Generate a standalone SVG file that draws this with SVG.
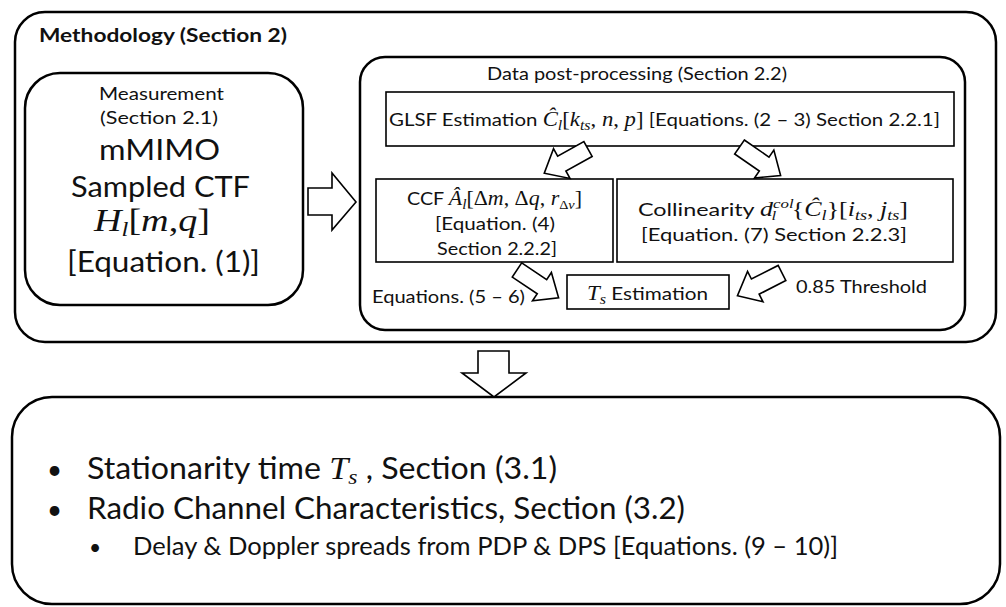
<svg xmlns="http://www.w3.org/2000/svg" xmlns:xlink="http://www.w3.org/1999/xlink" width="1006" height="607" viewBox="0 0 1006 607">
  <style>
    .frame { fill: #fff; stroke: #000; stroke-width: 2.5; }
    .box { fill: #fff; stroke: #000; stroke-width: 1.6; }
    .blk { fill: #fff; stroke: #000; stroke-width: 1.6; stroke-linejoin: miter; }
    text { font-family: Lato, "Open Sans", sans-serif; fill: #111; }
    .m { font-family: "Liberation Serif", "DejaVu Serif", serif; font-style: italic; }
    .mu { font-family: "Liberation Serif", "DejaVu Serif", serif; font-style: normal; }
  </style>
  <defs>
    <!-- hollow block arrow, tail at origin, pointing along +x -->
    <polygon id="blk" points="0,-8.5 30,-8.5 30,-17 50,0 30,17 30,8.5 0,8.5"/>
  </defs>
  <rect width="1006" height="607" fill="#fff"/>

  <!-- methodology frame -->
  <g id="methodology">
    <rect class="frame" x="15" y="12" width="981" height="330" rx="30"/>
    <text x="39" y="42" font-size="18" font-weight="bold" textLength="248" lengthAdjust="spacingAndGlyphs">Methodology (Section 2)</text>
  </g>

  <!-- measurement -->
  <g id="measurement">
    <rect class="frame" x="25" y="73" width="278" height="232" rx="35"/>
    <text x="99" y="100" font-size="18" textLength="125" lengthAdjust="spacingAndGlyphs">Measurement</text>
    <text x="100" y="124" font-size="18" textLength="118" lengthAdjust="spacingAndGlyphs">(Section 2.1)</text>
    <text x="99" y="160" font-size="29" textLength="121" lengthAdjust="spacingAndGlyphs">mMIMO</text>
    <text x="71" y="197" font-size="28" textLength="179" lengthAdjust="spacingAndGlyphs">Sampled CTF</text>
    <text x="94" y="231" font-size="31" textLength="116" lengthAdjust="spacingAndGlyphs"><tspan class="m">H</tspan><tspan class="m" font-size="20" dy="5">l</tspan><tspan class="mu" dy="-5">[</tspan><tspan class="m">m</tspan><tspan class="mu">,</tspan><tspan class="m">q</tspan><tspan class="mu">]</tspan></text>
    <text x="67" y="272" font-size="28" textLength="193" lengthAdjust="spacingAndGlyphs">[Equation. (1)]</text>
  </g>

  <!-- data post-processing -->
  <g id="post-processing">
    <rect class="frame" x="360" y="57" width="605" height="273" rx="25"/>
    <text x="487" y="80" font-size="18" textLength="300" lengthAdjust="spacingAndGlyphs">Data post-processing (Section 2.2)</text>
  </g>

  <g id="glsf">
    <rect class="box" x="386" y="92" width="568" height="54"/>
    <text x="389" y="126" font-size="18" textLength="551" lengthAdjust="spacingAndGlyphs">GLSF Estimation <tspan class="m" font-size="20">Ĉ</tspan><tspan class="m" font-size="14" dy="4">l</tspan><tspan class="mu" font-size="20" dy="-4">[</tspan><tspan class="m" font-size="20">k</tspan><tspan class="m" font-size="14" dy="4">ts</tspan><tspan class="mu" font-size="20" dy="-4">, </tspan><tspan class="m" font-size="20">n</tspan><tspan class="mu" font-size="20">, </tspan><tspan class="m" font-size="20">p</tspan><tspan class="mu" font-size="20">]</tspan> [Equations. (2 – 3) Section 2.2.1]</text>
  </g>

  <g id="ccf">
    <rect class="box" x="376" y="179" width="237" height="83"/>
    <text x="407" y="205" font-size="18" textLength="175" lengthAdjust="spacingAndGlyphs">CCF <tspan class="m" font-size="20">Â</tspan><tspan class="m" font-size="14" dy="4">l</tspan><tspan class="mu" font-size="20" dy="-4">[Δ</tspan><tspan class="m" font-size="20">m</tspan><tspan class="mu" font-size="20">, Δ</tspan><tspan class="m" font-size="20">q</tspan><tspan class="mu" font-size="20">, </tspan><tspan class="m" font-size="20">r</tspan><tspan class="mu" font-size="13" dy="4">Δ</tspan><tspan class="m" font-size="13">v</tspan><tspan class="mu" font-size="20" dy="-4">]</tspan></text>
    <text x="435" y="230" font-size="18" textLength="120" lengthAdjust="spacingAndGlyphs">[Equation. (4)</text>
    <text x="437" y="255" font-size="18" textLength="120" lengthAdjust="spacingAndGlyphs">Section 2.2.2]</text>
  </g>

  <g id="collinearity">
    <rect class="box" x="617" y="179" width="336" height="83"/>
    <text x="638" y="216" font-size="18" textLength="270" lengthAdjust="spacingAndGlyphs">Collinearity <tspan class="m" font-size="20">d</tspan><tspan class="m" font-size="13" dy="-8">col</tspan><tspan class="m" font-size="13" dx="-17" dy="12">l</tspan><tspan class="mu" font-size="20" dx="12" dy="-4">{</tspan><tspan class="m" font-size="20">Ĉ</tspan><tspan class="m" font-size="14" dy="4">l</tspan><tspan class="mu" font-size="20" dy="-4">}[</tspan><tspan class="m" font-size="20">i</tspan><tspan class="m" font-size="14" dy="4">ts</tspan><tspan class="mu" font-size="20" dy="-4">, </tspan><tspan class="m" font-size="20">j</tspan><tspan class="m" font-size="14" dy="4">ts</tspan><tspan class="mu" font-size="20" dy="-4">]</tspan></text>
    <text x="641" y="241" font-size="18" textLength="266" lengthAdjust="spacingAndGlyphs">[Equation. (7) Section 2.2.3]</text>
  </g>

  <g id="ts-estimation">
    <rect class="box" x="567" y="275" width="162" height="34"/>
    <text x="587" y="300" font-size="18" textLength="121" lengthAdjust="spacingAndGlyphs"><tspan class="m" font-size="20">T</tspan><tspan class="m" font-size="14" dy="4">s</tspan><tspan dy="-4"> Estimation</tspan></text>
  </g>

  <g id="labels">
    <text x="372" y="303" font-size="18" textLength="153" lengthAdjust="spacingAndGlyphs">Equations. (5 – 6)</text>
    <text x="796" y="293" font-size="18" textLength="131" lengthAdjust="spacingAndGlyphs">0.85 Threshold</text>
  </g>

  <!-- results -->
  <g id="results">
    <rect class="frame" x="12" y="397" width="988" height="207" rx="40"/>
    <text x="47" y="479" font-size="26">•</text>
    <text x="87" y="479" font-size="30" textLength="470" lengthAdjust="spacingAndGlyphs">Stationarity time <tspan class="m" font-size="32">T</tspan><tspan class="m" font-size="22" dy="5">s</tspan><tspan dy="-5"> ,  Section (3.1)</tspan></text>
    <text x="47" y="519" font-size="26">•</text>
    <text x="87" y="519" font-size="30" textLength="598" lengthAdjust="spacingAndGlyphs">Radio Channel Characteristics, Section (3.2)</text>
    <text x="89" y="555" font-size="21">•</text>
    <text x="133" y="555" font-size="25" textLength="705" lengthAdjust="spacingAndGlyphs">Delay &amp; Doppler spreads from PDP &amp; DPS [Equations. (9 – 10)]</text>
  </g>

  <!-- connectors -->
  <g id="connectors">
    <polygon class="blk" points="308,188 332,188 332,173 356,202 332,230 332,215 308,215"/>
    <use xlink:href="#blk" class="blk" transform="translate(588,149) rotate(151)"/>
    <use xlink:href="#blk" class="blk" transform="translate(739.5,147) rotate(34.7)"/>
    <use xlink:href="#blk" class="blk" transform="translate(517,270) rotate(33.7)"/>
    <use xlink:href="#blk" class="blk" transform="translate(782,273) rotate(153)"/>
    <polygon class="blk" points="478,351 509,351 509,373 526,373 494,397 462,373 478,373"/>
  </g>
</svg>
